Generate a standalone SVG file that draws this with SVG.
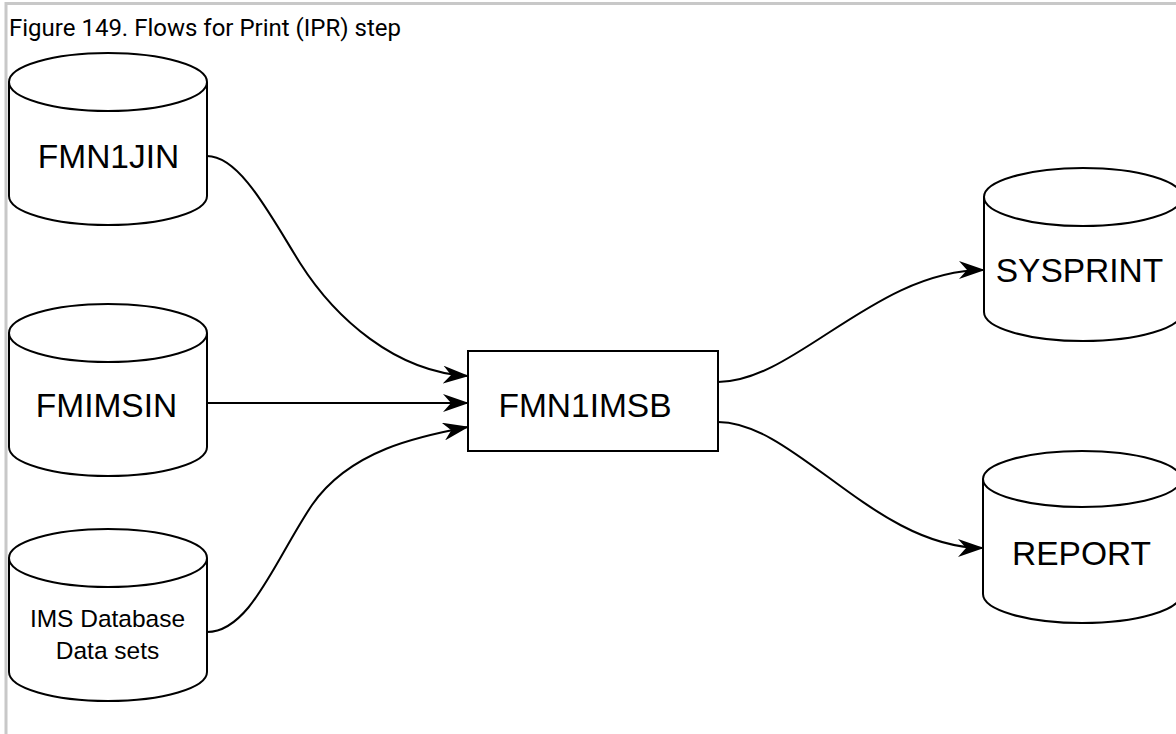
<svg xmlns="http://www.w3.org/2000/svg" width="1176" height="734" viewBox="0 0 1176 734">
<style>
.cyl{fill:#fff;stroke:#000;stroke-width:2}
.box{fill:#fff;stroke:#000;stroke-width:2}
.lbl{font-family:"Liberation Sans",Arial,sans-serif;font-size:33.5px;fill:#000;text-anchor:middle}
.sm{font-size:24.5px}
.edge{fill:none;stroke:#000;stroke-width:2}
.title{font-family:Roboto,"Noto Sans",sans-serif;font-size:24px;fill:#000}
</style>
<defs>
<marker id="arr" markerUnits="userSpaceOnUse" markerWidth="26" markerHeight="18" viewBox="0 0 26 18" refX="25" refY="9" orient="auto">
<path d="M0,0 L26,9 L0,18 L8,9 Z" fill="#000"/>
</marker>
</defs>
<rect width="1176" height="734" fill="#fff"/>
<polyline points="6,734 6,3.5 1176,3.5" fill="none" stroke="#c8c8c8" stroke-width="3"/>
<text class="title" x="9" y="36">Figure 149. Flows for Print (IPR) step</text>

<g id="connectors">
<path class="edge" marker-end="url(#arr)" d="M207,156 C240,156 270,215 300,263 C335,318 395,372 468,376"/>
<path class="edge" marker-end="url(#arr)" d="M207,403 L468,403"/>
<path class="edge" marker-end="url(#arr)" d="M207,632 C250,632 275,560 312,505 C350,450 420,436 468,427"/>
<path class="edge" marker-end="url(#arr)" d="M718,382 C795,382 875,270 984,270"/>
<path class="edge" marker-end="url(#arr)" d="M718,422 C795,422 875,548 983,548"/>
</g>

<g id="FMN1JIN">
<path class="cyl" d="M9,82 A99,29 0 0 1 207,82 V196 A99,29 0 0 1 9,196 Z M9,82 A99,29 0 0 0 207,82"/>
<text class="lbl" x="108.5" y="168">FMN1JIN</text>
</g>
<g id="FMIMSIN">
<path class="cyl" d="M9,333 A99,29 0 0 1 207,333 V447 A99,29 0 0 1 9,447 Z M9,333 A99,29 0 0 0 207,333"/>
<text class="lbl" x="106.5" y="417">FMIMSIN</text>
</g>
<g id="IMSDB">
<path class="cyl" d="M9,558 A99,29 0 0 1 207,558 V672 A99,29 0 0 1 9,672 Z M9,558 A99,29 0 0 0 207,558"/>
<text class="lbl sm" x="107.5" y="627">IMS Database</text>
<text class="lbl sm" x="107.5" y="659">Data sets</text>
</g>
<g id="FMN1IMSB">
<rect class="box" x="468" y="351" width="250" height="100"/>
<text class="lbl" x="585" y="417">FMN1IMSB</text>
</g>
<g id="SYSPRINT">
<path class="cyl" d="M984,197 A99,29 0 0 1 1182,197 V312 A99,29 0 0 1 984,312 Z M984,197 A99,29 0 0 0 1182,197"/>
<text class="lbl" x="1079.5" y="282">SYSPRINT</text>
</g>
<g id="REPORT">
<path class="cyl" d="M983,479 A99,28 0 0 1 1181,479 V594 A99,29 0 0 1 983,594 Z M983,479 A99,28 0 0 0 1181,479"/>
<text class="lbl" x="1081.5" y="565">REPORT</text>
</g>
</svg>
